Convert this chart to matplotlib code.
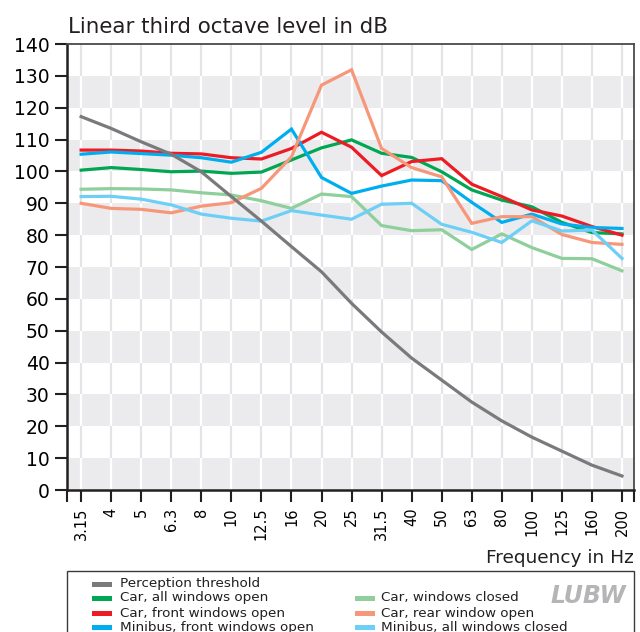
import matplotlib.pyplot as plt
from matplotlib.patches import Rectangle

# third octave band centre frequencies (Hz)
freqs = ['3.15', '4', '5', '6.3', '8', '10', '12.5', '16', '20', '25',
         '31.5', '40', '50', '63', '80', '100', '125', '160', '200']

# levels in dB per band
threshold = [117.2, 113.5, 109.3, 105.4, 99.9, 92.1, 84.4, 76.4, 68.5, 58.6,
             49.6, 41.4, 34.5, 27.6, 21.7, 16.6, 12.2, 7.8, 4.4]
car_all_open = [100.4, 101.2, 100.6, 99.9, 100.1, 99.4, 99.8, 103.6, 107.4, 109.9,
                105.7, 104.4, 99.9, 94.2, 91.0, 88.9, 84.0, 80.8, 80.4]
car_front_open = [106.7, 106.7, 106.4, 105.7, 105.5, 104.3, 103.9, 107.2, 112.3, 107.6,
                  98.7, 103.1, 104.0, 96.0, 92.1, 87.9, 86.0, 82.7, 80.0]
bus_front_open = [105.4, 106.1, 105.6, 105.1, 104.3, 102.9, 106.0, 113.3, 98.1, 93.1,
                  95.4, 97.3, 97.1, 90.3, 84.0, 86.6, 83.5, 82.4, 82.1]
car_closed = [94.4, 94.6, 94.5, 94.2, 93.3, 92.6, 90.8, 88.4, 92.9, 92.1,
              83.0, 81.4, 81.7, 75.5, 80.4, 76.1, 72.7, 72.6, 68.8]
car_rear_open = [90.0, 88.4, 88.1, 87.0, 89.1, 90.2, 94.7, 104.6, 127.1, 131.9,
                 107.2, 101.2, 98.3, 83.7, 85.8, 85.8, 80.2, 77.7, 77.1]
bus_all_closed = [92.1, 92.2, 91.3, 89.5, 86.6, 85.3, 84.4, 87.7, 86.3, 85.0,
                  89.7, 90.0, 83.4, 80.9, 77.7, 84.5, 81.3, 81.6, 72.7]

labels = ['Perception threshold', 'Car, all windows open', 'Car, front windows open',
          'Minibus, front windows open', 'Car, windows closed', 'Car, rear window open',
          'Minibus, all windows closed']
colors = ['#7a7a7c', '#00a651', '#ed1c24', '#00aeef', '#8fcf9c', '#f7977a', '#6dcff6']
series = [threshold, car_all_open, car_front_open, bus_front_open,
          car_closed, car_rear_open, bus_all_closed]

W, H = 640, 632
fig = plt.figure(figsize=(W / 100, H / 100), dpi=100)
ax = fig.add_axes([67 / W, 1 - 490 / H, (634 - 67) / W, (490 - 44) / H])

x = list(range(len(freqs)))
xlo, xhi = -0.47, 18.4
ax.set_xlim(xlo, xhi)
ax.set_ylim(0, 140)

# striped background with vertical grid
ax.vlines(x, 0, 140, color='#e4e4e6', lw=1.6, zorder=0)
for b in range(0, 140, 20):
    ax.axhspan(b, b + 10, color='#ebebee', lw=0, zorder=0.5)
    ax.vlines(x, b, b + 10, color='white', lw=1.6, zorder=0.6)

# colored series first, threshold on top
for s, c in list(zip(series, colors))[1:]:
    ax.plot(x, s, color=c, lw=2.3, zorder=3, solid_joinstyle='miter')
ax.plot(x, threshold, color=colors[0], lw=2.3, zorder=4)

ax.set_xticks(x)
ax.set_xticklabels(freqs, rotation=90, fontsize=10.5)
ax.set_xticks([xlo, xhi], minor=True)
ax.set_yticks(range(0, 141, 10))
ax.set_yticklabels([str(v) for v in range(0, 141, 10)], fontsize=13.5)
ax.tick_params(axis='both', which='both', direction='out', length=8.6, width=1.5,
               color='#231f20')
ax.tick_params(axis='x', pad=4)
ax.tick_params(axis='y', pad=4)

for side in ['left', 'bottom']:
    ax.spines[side].set_linewidth(1.8)
    ax.spines[side].set_color('#231f20')
for side in ['top', 'right']:
    ax.spines[side].set_linewidth(1.3)
    ax.spines[side].set_color('#4a4a4a')

fig.text(68 / W, 1 - 33 / H, 'Linear third octave level in dB', fontsize=15.4,
         ha='left', va='baseline', color='#231f20')
fig.text(634 / W, 1 - 558 / H, 'Frequency in Hz', fontsize=13.3,
         ha='right', va='center', color='#231f20')

# legend box, running off the bottom edge
fig.patches.append(Rectangle((67 / W, -0.05), (634 - 67) / W, 0.05 + (632 - 571) / H,
                             transform=fig.transFigure, fill=False,
                             edgecolor='#3a3a3a', lw=1.0))
rows = [584, 598, 613, 627]
slots = [(0, 0), (0, 1), (0, 2), (0, 3), (1, 1), (1, 2), (1, 3)]
for (col, row), lab, c in zip(slots, labels, colors):
    px, tx = (92, 120) if col == 0 else (355, 381)
    y = rows[row]
    fig.patches.append(Rectangle((px / W, 1 - (y + 2.5) / H), 20 / W, 5 / H,
                                 transform=fig.transFigure, color=c, lw=0))
    fig.text(tx / W, 1 - y / H, lab, fontsize=9.7, ha='left', va='center',
             color='#231f20')

fig.text(626 / W, 1 - 596 / H, 'LUBW', fontsize=17, fontweight='bold',
         fontstyle='italic', ha='right', va='center', color='#b5b5b7')

fig.savefig('out.png', dpi=100)
